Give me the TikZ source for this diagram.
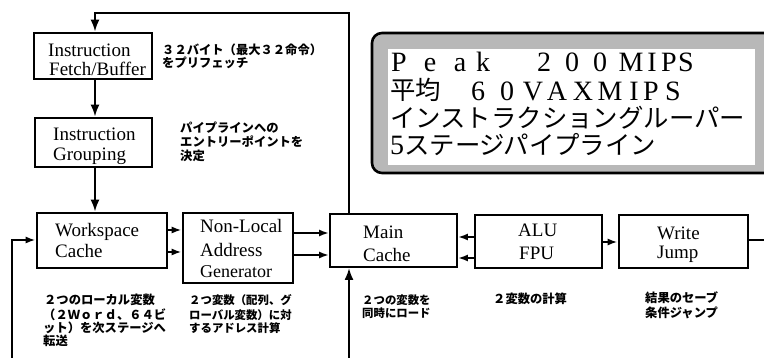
\documentclass[tikz,border=0pt]{standalone}
\usepackage{fontspec}
\setmainfont{Liberation Serif}
\newfontfamily\jp{Noto Sans CJK JP}
\usetikzlibrary{arrows.meta}
\begin{document}
\begin{tikzpicture}[x=1pt,y=-1pt,
  box/.style={draw, line width=2.6pt, inner sep=0pt, rectangle},
  lbl/.style={font=\fontsize{19pt}{19pt}\selectfont, inner sep=0pt, anchor=base west},
  note/.style={font=\jp\bfseries\fontsize{12.3pt}{13pt}\selectfont, inner sep=0pt, anchor=base west},
  notesm/.style={note, font=\jp\bfseries\fontsize{11.4pt}{13pt}\selectfont},
  conn/.style={line width=2.2pt},
  arr/.style={conn, -{Latex[length=10pt,width=7pt]}},
  varr/.style={conn, -{Latex[length=12pt,width=9pt]}},
  big/.style={font=\fontsize{28pt}{28pt}\selectfont, inner sep=0pt, anchor=base},
  bigw/.style={big, anchor=base west},
  bigjp/.style={font=\jp\fontsize{25.4pt}{26pt}\selectfont, inner sep=0pt, anchor=base west}]
\useasboundingbox (0,0) rectangle (764,358);
\clip (0,0) rectangle (764,358);

% ---- stippled info panel ----
\fill[black!28, rounded corners=10pt] (372,33) rectangle (800,173);
\fill[white] (388,49) rectangle (755,165);
\draw[line width=2.6pt, rounded corners=10pt] (372,33) rectangle (800,173);
\foreach \x/\c [count=\i] in {399/P,430/e,460/a,483/k,544/2,572/0,600/0,631/M,652/I,669/P,686/S}
  \node[big] (pk\i) at (\x,72) {\c};
\node[bigjp] (avgjp) at (390,100) {平均};
\foreach \x/\c [count=\i] in {478/6,507/0,533/V,557/A,583/X,610/M,634/I,651/P,673/S}
  \node[big] (av\i) at (\x,101) {\c};
\node[bigjp] (ig) at (390,128) {インストラクショングルーパー};
\node[bigw] (five) at (390,155) {5};
\node[bigjp] (stage) at (404,155) {ステージパイプライン};

% ---- boxes ----
\node[box, minimum width=118pt, minimum height=46pt] (fetch) at (93,56) {};
\node[box, minimum width=117pt, minimum height=49pt] (group) at (93.5,142.5) {};
\node[box, minimum width=130pt, minimum height=55pt] (work) at (102,240.5) {};
\node[box, minimum width=110pt, minimum height=70pt] (nonlocal) at (238,248) {};
\node[box, line width=1.8pt, minimum width=127pt, minimum height=53pt] (main) at (393.5,240.5) {};
\node[box, minimum width=127pt, minimum height=53pt] (alu) at (538.5,241.5) {};
\node[box, minimum width=129pt, minimum height=53pt] (write) at (683.5,241.5) {};

% ---- box labels ----
\node[lbl] (fetch1) at (48,57) {Instruction};
\node[lbl] (fetch2) at (49,76) {Fetch/Buffer};
\node[lbl] (group1) at (53,141) {Instruction};
\node[lbl] (group2) at (53,161) {Grouping};
\node[lbl] (work1) at (55,237) {Workspace};
\node[lbl] (work2) at (55,258) {Cache};
\node[lbl] (nl1) at (200,233) {Non-Local};
\node[lbl] (nl2) at (200,257) {Address};
\node[lbl, font=\fontsize{18pt}{18pt}\selectfont] (nl3) at (200,278) {Generator};
\node[lbl] (main1) at (363,239) {Main};
\node[lbl] (main2) at (363,262) {Cache};
\node[lbl] (alu1) at (518,237) {ALU};
\node[lbl] (alu2) at (519,260) {FPU};
\node[lbl] (write1) at (657,240) {Write};
\node[lbl] (write2) at (657,259) {Jump};

% ---- annotations ----
\node[note] (fn1) at (162,55) {３２バイト（最大３２命令）};
\node[note] (fn2) at (162,68) {をプリフェッチ};
\node[note] (gn1) at (180,133) {パイプラインへの};
\node[note] (gn2) at (180,147) {エントリーポイントを};
\node[note] (gn3) at (180,161) {決定};
\node[note] (wn1) at (44,305) {２つのローカル変数};
\node[note] (wn2) at (43,320) {（２Ｗｏｒｄ、６４ビ};
\node[note] (wn3) at (43,333) {ット）を次ステージへ};
\node[note] (wn4) at (43,346) {転送};
\node[notesm] (nn1) at (189,305) {２つ変数（配列、グ};
\node[notesm] (nn2) at (189,320) {ローバル変数）に対};
\node[notesm] (nn3) at (189,333) {するアドレス計算};
\node[notesm] (mn1) at (362,305) {２つの変数を};
\node[notesm] (mn2) at (362,318) {同時にロード};
\node[note] (an1) at (493,304) {２変数の計算};
\node[note] (rn1) at (645,303) {結果のセーブ};
\node[note] (rn2) at (645,318) {条件ジャンプ};

% ---- connectors ----
\coordinate (tl) at (95,13);
\coordinate (tr) at (349,13);
\coordinate (mb) at (349,360);
\coordinate (lb) at (12,360);
\coordinate (lc) at (12,240);
\coordinate (re) at (770,240);
\draw[varr] (tr |- main.north) -- (tr) -- (tl) -- (tl |- fetch.north);
\draw[varr] (95,79) -- (tl |- group.north);
\draw[varr] (tl |- group.south) -- (tl |- work.north);
\draw[varr] (mb) -- (mb |- main.south);
\draw[arr] (lb) -- (lc) -- (lc -| work.west);
\draw[arr] (work.east |- 0,230) -- (nonlocal.west |- 0,230);
\draw[arr] (work.east |- 0,252) -- (nonlocal.west |- 0,252);
\draw[arr] (nonlocal.east |- 0,233) -- (main.west |- 0,233);
\draw[arr] (nonlocal.east |- 0,255) -- (main.west |- 0,255);
\draw[arr] (alu.west |- 0,237) -- (main.east |- 0,237);
\draw[arr] (alu.west |- 0,258) -- (main.east |- 0,258);
\draw[arr] (alu.east |- 0,242) -- (write.west |- 0,242);
\draw[conn] (write.east |- re) -- (re);
\end{tikzpicture}
\end{document}
